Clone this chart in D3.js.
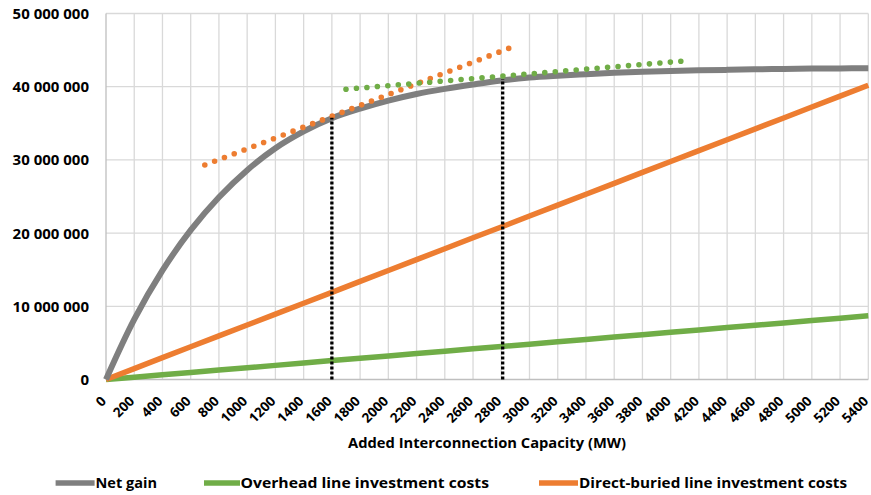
<!DOCTYPE html>
<html>
<head>
<meta charset="utf-8">
<script src="https://cdn.jsdelivr.net/npm/d3@7/dist/d3.min.js"></script>
<style>
  html, body { margin: 0; padding: 0; background: #fff; }
  svg text { font-family: "Open Sans", Lato, "Liberation Sans", sans-serif; font-weight: bold; fill: #000; }
</style>
</head>
<body>
<svg id="chart" width="871" height="495"></svg>
<script>
// ---- Data ----
const capacityMW = [0,200,400,600,800,1000,1200,1400,1600,1800,2000,2200,2400,2600,2800,3000,3200,3400,3600,3800,4000,4200,4400,4600,4800,5000,5200,5400];
const netGain = [0,8.2,14.9,20.4,24.9,28.6,31.6,33.9,35.7,37.0,38.1,39.0,39.7,40.3,40.85,41.25,41.5,41.7,41.9,42.05,42.15,42.25,42.3,42.38,42.43,42.47,42.5,42.52].map(v => v * 1e6);
const overheadCost = [0,0.32,0.64,0.97,1.29,1.61,1.93,2.26,2.58,2.9,3.22,3.54,3.87,4.19,4.51,4.83,5.16,5.48,5.8,6.12,6.44,6.77,7.09,7.41,7.73,8.06,8.38,8.7].map(v => v * 1e6);
const directBuriedCost = [0,1.49,2.98,4.47,5.96,7.44,8.93,10.42,11.91,13.4,14.89,16.38,17.87,19.36,20.84,22.33,23.82,25.31,26.8,28.29,29.78,31.27,32.76,34.24,35.73,37.22,38.71,40.2].map(v => v * 1e6);
// tangent (dotted) lines: [MW, value]
const directTangent = [[700, 29.3e6], [2855, 45.25e6]];
const overheadTangent = [[1700, 39.66e6], [4145, 43.6e6]];
// vertical optimum markers: [MW, value at top]
const optimaMW = [1600, 2810];
const optimaTop = [35.75e6, 41.05e6];
const yTicks = [0, 10e6, 20e6, 30e6, 40e6, 50e6];
const yTickLabels = ["0", "10 000 000", "20 000 000", "30 000 000", "40 000 000", "50 000 000"];
const xTickLabels = capacityMW.map(String);
const xTitle = "Added Interconnection Capacity (MW)";
const seriesNames = ["Net gain", "Overhead line investment costs", "Direct-buried line investment costs"];
const seriesColors = ["#7f7f7f", "#70ad47", "#ed7d31"];

// ---- Drawing ----
const svg = d3.select("#chart");
const x = d3.scaleLinear().domain([0, 5400]).range([106, 868.3]);
const y = d3.scaleLinear().domain([0, 50e6]).range([379.5, 13.5]);

// gridlines
const grid = svg.append("g");
grid.selectAll("line.v").data(capacityMW.slice(1)).join("line")
  .attr("x1", d => x(d)).attr("x2", d => x(d))
  .attr("y1", y(50e6)).attr("y2", y(0))
  .attr("stroke", "#d9d9d9").attr("stroke-width", 1.3);
grid.selectAll("line.h").data(yTicks.slice(1)).join("line")
  .attr("x1", x(0)).attr("x2", x(5400))
  .attr("y1", d => y(d)).attr("y2", d => y(d))
  .attr("stroke", "#d9d9d9").attr("stroke-width", 1.3);

// axes lines
svg.append("line").attr("x1", x(0)).attr("x2", x(0)).attr("y1", y(50e6)).attr("y2", y(0))
  .attr("stroke", "#bfbfbf").attr("stroke-width", 1.3);
svg.append("line").attr("x1", x(0)).attr("x2", x(5400)).attr("y1", y(0)).attr("y2", y(0))
  .attr("stroke", "#bfbfbf").attr("stroke-width", 1.3);

// y tick labels
svg.append("g").selectAll("text").data(yTicks).join("text")
  .attr("x", 89).attr("y", d => y(d)).attr("dy", "0.36em")
  .attr("text-anchor", "end").attr("font-size", 15)
  .text((d, i) => yTickLabels[i]);

// x tick labels (rotated)
svg.append("g").selectAll("text").data(capacityMW).join("text")
  .attr("transform", d => `translate(${x(d) - 2.5},${398.5}) rotate(-45)`)
  .attr("text-anchor", "end").attr("dy", "0.36em").attr("font-size", 13.5)
  .text((d, i) => xTickLabels[i]);

// axis title
svg.append("text").attr("x", 487).attr("y", 443).attr("dy", "0.36em")
  .attr("text-anchor", "middle").attr("font-size", 15)
  .attr("textLength", 278).attr("lengthAdjust", "spacingAndGlyphs").text(xTitle);

// series lines
const line = d3.line().x((d, i) => x(capacityMW[i])).y(d => y(d));
const smooth = d3.line().x((d, i) => x(capacityMW[i])).y(d => y(d)).curve(d3.curveCatmullRom.alpha(0.5));
svg.append("path").datum(overheadCost).attr("d", line)
  .attr("fill", "none").attr("stroke", seriesColors[1]).attr("stroke-width", 5.5);
svg.append("path").datum(directBuriedCost).attr("d", line)
  .attr("fill", "none").attr("stroke", seriesColors[2]).attr("stroke-width", 5.5);
svg.append("path").datum(netGain).attr("d", smooth)
  .attr("fill", "none").attr("stroke", seriesColors[0]).attr("stroke-width", 6);

// tangent dotted lines
const pl = d3.line().x(d => x(d[0])).y(d => y(d[1]));
svg.append("path").datum(directTangent).attr("d", pl)
  .attr("fill", "none").attr("stroke", seriesColors[2]).attr("stroke-width", 5.6)
  .attr("stroke-linecap", "round").attr("stroke-dasharray", "0,10.5");
svg.append("path").datum(overheadTangent).attr("d", pl)
  .attr("fill", "none").attr("stroke", seriesColors[1]).attr("stroke-width", 5.6)
  .attr("stroke-linecap", "round").attr("stroke-dasharray", "0,10.5");

// vertical optimum markers
svg.append("g").selectAll("line").data(optimaMW).join("line")
  .attr("x1", d => x(d)).attr("x2", d => x(d))
  .attr("y1", y(0)).attr("y2", (d, i) => y(optimaTop[i]))
  .attr("stroke", "#000").attr("stroke-width", 3.3).attr("stroke-dasharray", "3,2");

// legend
const legendItems = [
  {lx: 55.6, lw: 39, tx: 95.5, tw: 61.5},
  {lx: 204, lw: 36, tx: 240.5, tw: 248.5},
  {lx: 539, lw: 39, tx: 579, tw: 268}
];
const lg = svg.append("g");
lg.selectAll("line").data(seriesNames).join("line")
  .attr("x1", (d, i) => legendItems[i].lx).attr("x2", (d, i) => legendItems[i].lx + legendItems[i].lw)
  .attr("y1", 483).attr("y2", 483)
  .attr("stroke", (d, i) => seriesColors[i]).attr("stroke-width", 5.5);
lg.selectAll("text").data(seriesNames).join("text")
  .attr("x", (d, i) => legendItems[i].tx).attr("y", 483).attr("dy", "0.36em")
  .attr("font-size", 15)
  .attr("textLength", (d, i) => legendItems[i].tw).attr("lengthAdjust", "spacingAndGlyphs")
  .text(d => d);
</script>
</body>
</html>
